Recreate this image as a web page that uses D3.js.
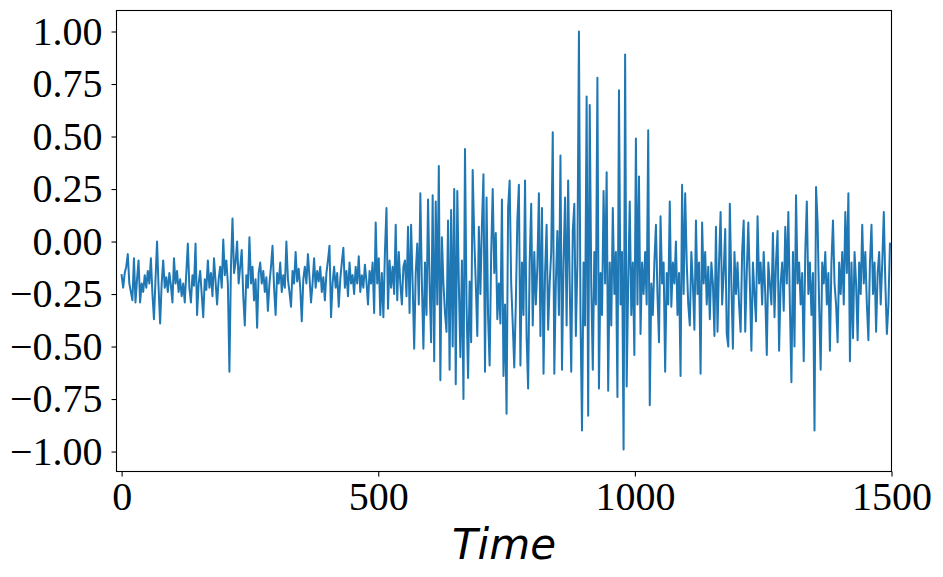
<!DOCTYPE html>
<html>
<head>
<meta charset="utf-8">
<script src="https://cdn.jsdelivr.net/npm/d3@7"></script>
<style>
  html, body { margin: 0; padding: 0; background: #fff; }
  svg { display: block; }
</style>
</head>
<body>
<svg id="chart" width="943" height="577"></svg>
<script>
// Sampling step of the series (time units between consecutive values)
const timeStep = 3;

// Series values, one every 3 time units (t = 0 .. 1497)
const valuesA = [ // t 0 .. 249
  -0.16,-0.22,-0.15,-0.12,-0.06,-0.20,-0.24,-0.28,-0.08,-0.29,
  -0.18,-0.09,-0.29,-0.20,-0.24,-0.16,-0.22,-0.14,-0.20,-0.08,
  -0.25,-0.37,-0.18, 0.00,-0.22,-0.39,-0.20,-0.09,-0.22,-0.17,
  -0.24,-0.15,-0.21,-0.29,-0.08,-0.20,-0.14,-0.24,-0.18,-0.26,
  -0.20,-0.29,-0.15,-0.01,-0.22,-0.29,-0.16,-0.21,-0.01,-0.35,
  -0.20,-0.14,-0.25,-0.36,-0.18,-0.23,-0.09,-0.22,-0.15,-0.26,
  -0.08,-0.19,-0.30,-0.18,-0.12,-0.22, 0.01,-0.16,-0.09,-0.20,
  -0.62,-0.12, 0.11,-0.15,-0.10, 0.00,-0.20,-0.12,-0.04,-0.26,
  -0.40,-0.16,-0.22, 0.02
];
const valuesB = [ // t 252 .. 513
  -0.20,-0.12,-0.28,-0.18,-0.41,-0.15,-0.10,-0.20,-0.14,-0.24,
  -0.17,-0.33,-0.20,-0.12,-0.02,-0.22,-0.35,-0.15,-0.20,-0.10,
  -0.24,-0.16,-0.22, 0.00,-0.18,-0.24,-0.31,-0.14,-0.20,-0.05,
  -0.19,-0.13,-0.22,-0.38,-0.18,-0.12,-0.20,-0.06,-0.17,-0.29,
  -0.20,-0.08,-0.22,-0.14,-0.19,-0.12,-0.24,-0.17,-0.28,-0.15,
  -0.09,-0.02,-0.36,-0.20,-0.12,-0.22,-0.15,-0.31,-0.18,-0.10,
  -0.03,-0.22,-0.14,-0.26,-0.10,-0.20,-0.16,-0.25,-0.12,-0.20,
  -0.07,-0.24,-0.16,-0.22,-0.11,-0.19,-0.30,-0.14,-0.20,-0.10,
  -0.34, 0.09,-0.20,-0.08,-0.35,-0.15,-0.36,-0.05
];
const valuesC = [ // t 516 .. 765
   0.16,-0.32,-0.09,-0.22,-0.12,-0.25, 0.08,-0.28,-0.05,-0.20,
  -0.30,-0.12,-0.09,-0.26, 0.07,-0.34, 0.08,-0.20,-0.51,-0.15,
  -0.01,-0.30, 0.23,-0.20,-0.51,-0.10,-0.35, 0.20,-0.20,-0.48,
   0.22,-0.57, 0.19,-0.30, 0.36,-0.66, 0.02,-0.20,-0.34,-0.43,
   0.10,-0.61, 0.15,-0.50, 0.25,-0.68, 0.24,-0.20,-0.55,-0.09,
  -0.75, 0.44,-0.30,-0.65,-0.19,-0.48, 0.34, 0.02,-0.20,-0.45,
   0.07,-0.25, 0.08, 0.32,-0.62, 0.21,-0.36,-0.59,-0.06, 0.25,
  -0.15, 0.04,-0.37,-0.20,-0.39, 0.20,-0.64,-0.30,-0.82, 0.16,
   0.29,-0.20,-0.39,-0.60
];
const valuesD = [ // t 768 .. 1014
  -0.30, 0.10, 0.27,-0.59,-0.10,-0.35, 0.29,-0.45,-0.70,-0.10,
   0.18,-0.40,-0.05,-0.30,-0.12, 0.23,-0.45, 0.16,-0.63,-0.15,
   0.08,-0.42,-0.20,-0.05, 0.52,-0.63,-0.20, 0.05,-0.35, 0.41,
  -0.61,-0.10, 0.21,-0.40, 0.29,-0.20,-0.62, 0.05, 0.18,-0.45,
  -0.10, 1.00,-0.35,-0.90,-0.10,-0.40, 0.69,-0.83, 0.65,-0.20,
  -0.61,-0.05,-0.30, 0.78,-0.70,-0.15,-0.35, 0.24,-0.20, 0.33,
  -0.71,-0.10,-0.40, 0.16,-0.25,-0.05,-0.74, 0.72,-0.30,-0.05,
  -0.99, 0.89,-0.69,-0.20, 0.19,-0.35,-0.10,-0.54, 0.49,-0.30,
   0.31,-0.44,-0.10
];
const valuesE = [ // t 1017 .. 1260
  -0.25,-0.05,-0.30, 0.53,-0.78,-0.20,-0.35,-0.10, 0.08,-0.25,
  -0.48, 0.12,-0.20,-0.10,-0.62,-0.15,-0.30, 0.19,-0.31,-0.10,
  -0.20, 0.00,-0.35,-0.15,-0.64, 0.27,-0.25, 0.23,-0.10,-0.30,
  -0.40,-0.05,-0.20,-0.42, 0.10,-0.25,-0.10,-0.63, 0.09,-0.20,
  -0.05,-0.30,-0.12,-0.37,-0.10,-0.20,-0.45, 0.07,-0.43,-0.10,
   0.14,-0.30,-0.15, 0.06,-0.44,-0.50, 0.18,-0.20,-0.51,-0.05,
  -0.25,-0.10,-0.30,-0.43,-0.05, 0.10,-0.43,-0.15, 0.09,-0.20,
  -0.52,-0.10,-0.25,-0.38, 0.12,-0.20,-0.10,-0.30,-0.05,-0.25,
  -0.54,-0.10
];
const valuesF = [ // t 1263 .. 1497
  -0.20,-0.30, 0.04,-0.36,-0.10, 0.05,-0.52,-0.20,-0.10,-0.33,
   0.07,-0.20, 0.14,-0.30,-0.67,-0.05,-0.50, 0.22,-0.20,-0.10,
  -0.30,-0.15,-0.57,-0.05, 0.19,-0.25,-0.10,-0.35,-0.15,-0.90,
   0.26, 0.09,-0.30,-0.61,-0.10,-0.20,-0.05,-0.30,-0.15,-0.52,
  -0.10, 0.10,-0.20,-0.30,-0.48,-0.10,-0.25,-0.05,-0.30, 0.14,
  -0.15, 0.23,-0.57,-0.10,-0.46,-0.05,-0.20,-0.47,-0.10,-0.25,
   0.08,-0.20,-0.05,-0.30,-0.47,-0.10, 0.08,-0.25,-0.10,-0.43,
  -0.15,-0.05,-0.30,-0.10, 0.14,-0.20,-0.44,-0.30,-0.01
];

const xTicks = [0, 500, 1000, 1500];
const yTicks = [1.00, 0.75, 0.50, 0.25, 0.00, -0.25, -0.50, -0.75, -1.00];
const xLabel = "Time";

const values = [].concat(valuesA, valuesB, valuesC, valuesD, valuesE, valuesF);
const series = values.map((v, i) => ({ t: i * timeStep, v: v }));

const svg = d3.select("#chart");
const plotL = 116.5, plotR = 891.5, plotT = 10.5, plotB = 471.5;

const x = d3.scaleLinear().domain([-10, 1500]).range([plotL, plotR]);
const y = d3.scaleLinear().domain([-1.095, 1.1]).range([plotB, plotT]);

const tickFont = "'Liberation Serif', 'Times New Roman', serif";

// line
svg.append("path")
  .datum(series)
  .attr("fill", "none")
  .attr("stroke", "#1f77b4")
  .attr("stroke-width", 2)
  .attr("stroke-linejoin", "round")
  .attr("stroke-linecap", "square")
  .attr("d", d3.line().x(d => x(d.t)).y(d => y(d.v)));

// axes
const fmtY = v => (v < 0 ? "\u2212" : "") + Math.abs(v).toFixed(2);

const yAxis = svg.append("g")
  .attr("transform", `translate(${plotL},0)`)
  .call(d3.axisLeft(y).tickValues(yTicks).tickFormat(fmtY).tickSize(5).tickPadding(9));
const xAxis = svg.append("g")
  .attr("transform", `translate(0,${plotB})`)
  .call(d3.axisBottom(x).tickValues(xTicks).tickFormat(d3.format("d")).tickSize(5).tickPadding(5));

[yAxis, xAxis].forEach(g => {
  g.select(".domain").remove();
  g.selectAll(".tick line").attr("stroke", "#000").attr("stroke-width", 1.1);
  g.selectAll(".tick text")
    .attr("fill", "#000")
    .style("font-family", tickFont)
    .style("font-size", "40px");
});

// frame
svg.append("rect")
  .attr("x", plotL).attr("y", plotT)
  .attr("width", plotR - plotL).attr("height", plotB - plotT)
  .attr("fill", "none").attr("stroke", "#000").attr("stroke-width", 1.1);

// x label
svg.append("text")
  .attr("x", (plotL + plotR) / 2)
  .attr("y", 559)
  .attr("text-anchor", "middle")
  .style("font-family", "'DejaVu Sans', sans-serif")
  .style("font-style", "italic")
  .style("font-size", "42px")
  .text(xLabel);
</script>
</body>
</html>
